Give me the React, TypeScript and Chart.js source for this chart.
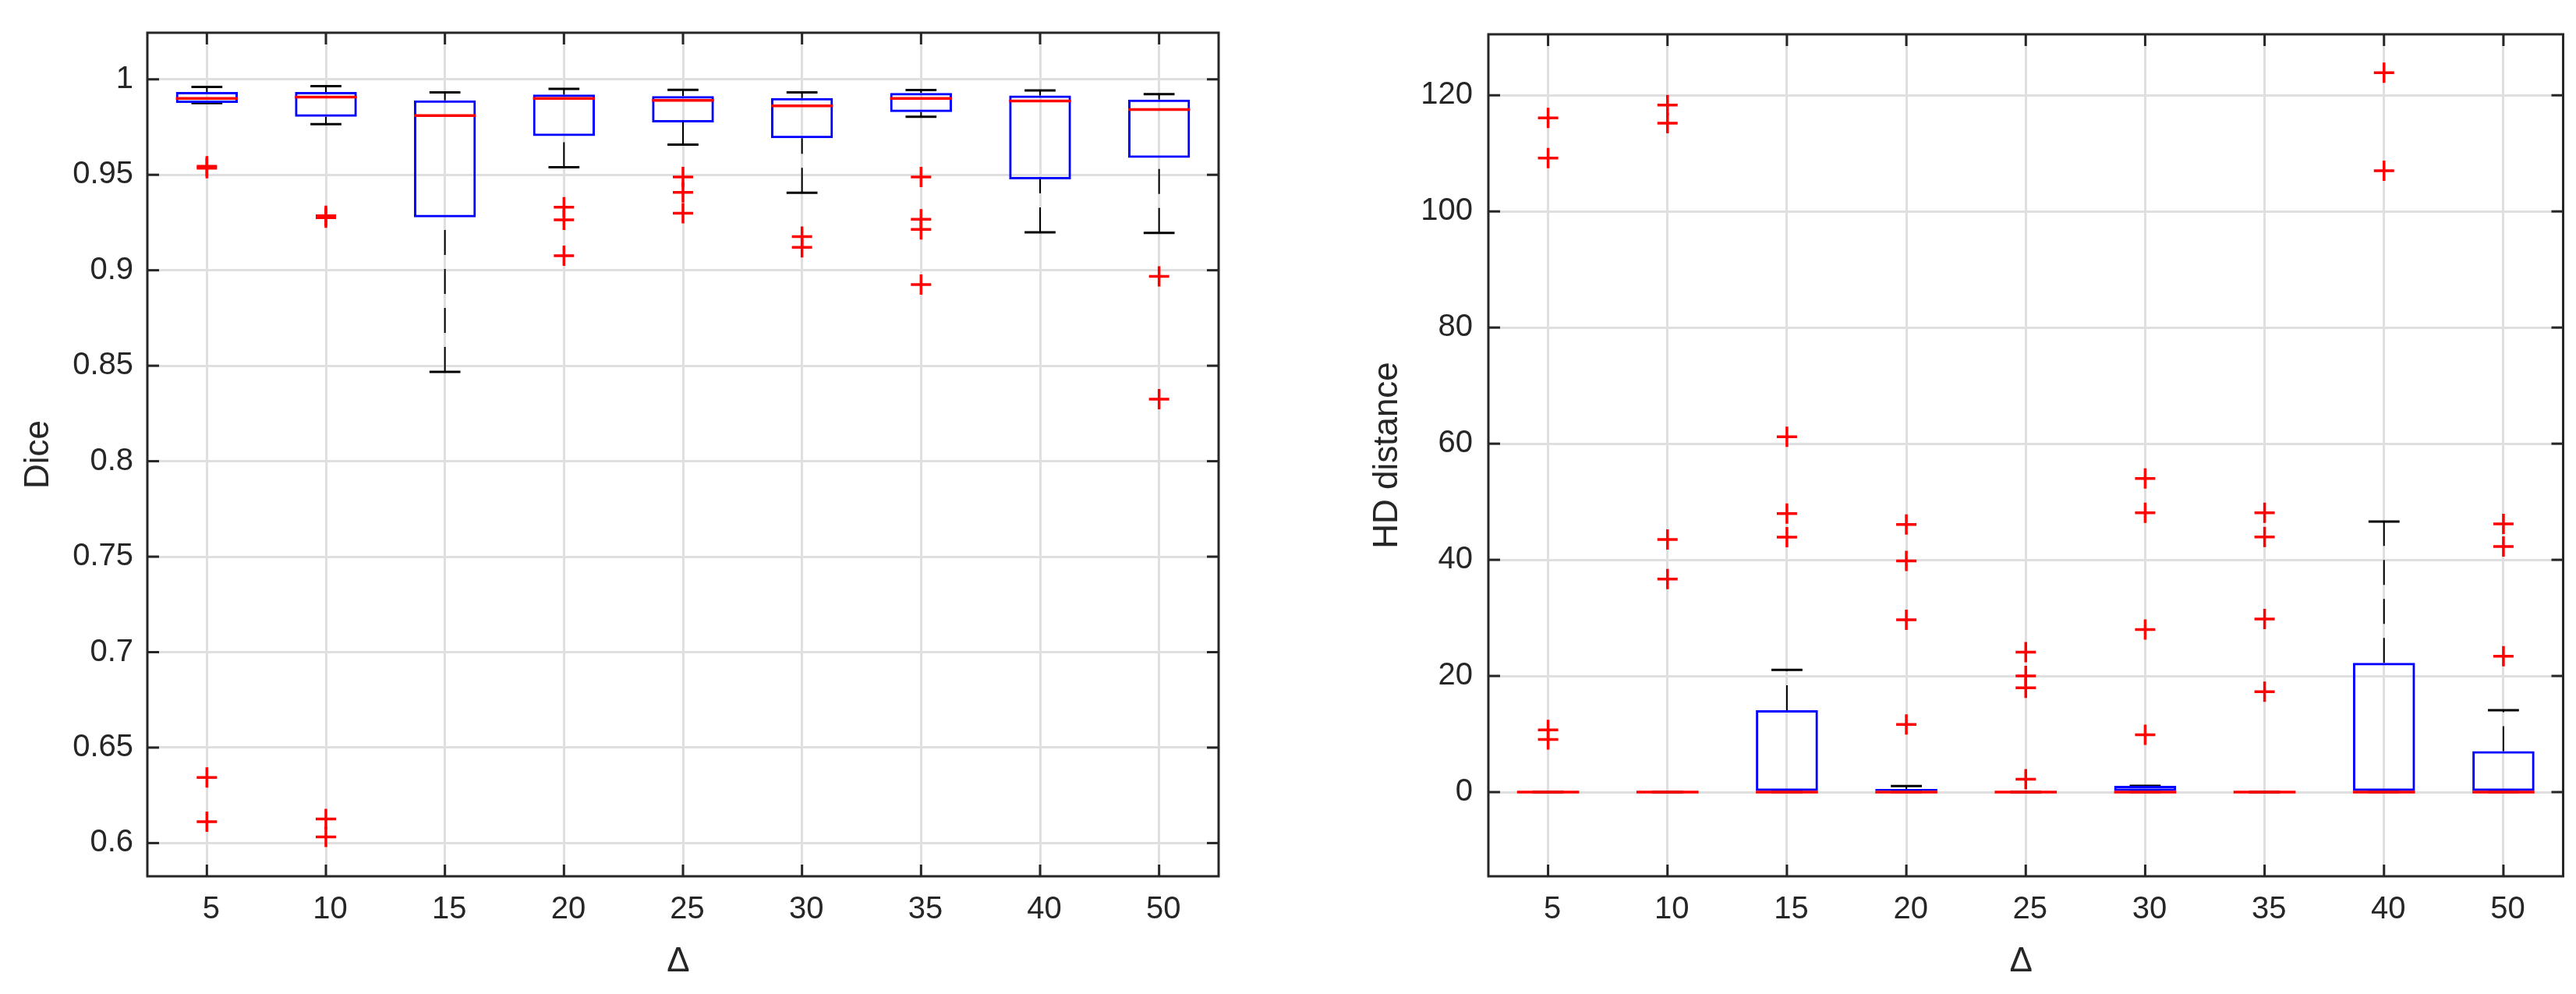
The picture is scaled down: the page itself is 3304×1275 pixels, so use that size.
import React, { useEffect, useRef } from 'react';
import { Chart, registerables } from 'chart.js';

Chart.register(...registerables);

const categories = ['5', '10', '15', '20', '25', '30', '35', '40', '50'];

// ---- Dice ----
const diceLowerWhisker = [0.9876, 0.9765, 0.8468, 0.954, 0.9658, 0.9406, 0.9804, 0.9199, 0.9196];
const diceQ1 = [0.9877, 0.9804, 0.9277, 0.9703, 0.9774, 0.9692, 0.9829, 0.9476, 0.9589];
const diceMedian = [0.99, 0.9907, 0.981, 0.99, 0.989, 0.9861, 0.99, 0.9887, 0.9842];
const diceQ3 = [0.9934, 0.9934, 0.989, 0.992, 0.9912, 0.9902, 0.9929, 0.9915, 0.9894];
const diceUpperWhisker = [0.996, 0.9964, 0.9932, 0.995, 0.9945, 0.9932, 0.9944, 0.9942, 0.9922];
const diceOutliers = [
  [0.9545, 0.9535, 0.6344, 0.6112],
  [0.9285, 0.9275, 0.6126, 0.6032],
  [],
  [0.933, 0.9264, 0.9076],
  [0.9489, 0.9408, 0.9299],
  [0.9176, 0.912],
  [0.9489, 0.9267, 0.9214, 0.8925],
  [],
  [0.8968, 0.8325],
];
const diceAxis = [0.5826, 1.0244, 0.05];

// ---- HD distance ----
const hdLowerWhisker = [0, 0, 0, 0, 0, 0, 0, 0, 0];
const hdQ1 = [0, 0, 0, 0, 0, 0, 0, 0, 0];
const hdMedian = [0, 0, 0, 0, 0, 0, 0, 0, 0];
const hdQ3 = [0, 0, 14.1, 0.55, 0, 1.07, 0, 22.26, 7.06];
const hdUpperWhisker = [0, 0, 21.06, 1.03, 0, 1.07, 0, 46.6, 14.1];
const hdOutliers = [
  [116.1, 109.2, 10.7, 9.07],
  [118.3, 115.2, 43.5, 36.7],
  [61.2, 47.96, 43.9],
  [46.07, 39.8, 29.66, 11.65],
  [24.1, 20.0, 17.96, 2.2],
  [54.0, 48.1, 28.0, 9.87],
  [48.1, 43.95, 29.8, 17.27],
  [123.9, 107.0],
  [46.2, 42.3, 23.4],
];
const hdAxis = [-14.5, 130.5, 20];

const FONT = '"Liberation Sans", Arial, Helvetica, sans-serif';
const TEXT = '#262626';
const GRID = '#dfdfdf';

type Stats = {
  lw: number[];
  q1: number[];
  med: number[];
  q3: number[];
  uw: number[];
  out: number[][];
};

function makeBoxPlugin(s: Stats) {
  const line = (ctx: CanvasRenderingContext2D, x1: number, y1: number, x2: number, y2: number) => {
    ctx.beginPath();
    ctx.moveTo(x1, y1);
    ctx.lineTo(x2, y2);
    ctx.stroke();
  };
  return {
    id: 'boxWhiskers',
    beforeDatasetsDraw(chart: any) {
      const { ctx } = chart;
      const x = chart.scales.x;
      const y = chart.scales.y;
      const meta = chart.getDatasetMeta(0);
      ctx.save();
      ctx.strokeStyle = '#000000';
      categories.forEach((_, i) => {
        const cx = x.getPixelForValue(i);
        const half = meta.data[i].width / 2;
        ctx.lineWidth = 2;
        ctx.setLineDash([32, 18]);
        // drawn from lower value upward
        line(ctx, cx, y.getPixelForValue(s.lw[i]), cx, y.getPixelForValue(s.q1[i]));
        line(ctx, cx, y.getPixelForValue(s.q3[i]), cx, y.getPixelForValue(s.uw[i]));
        ctx.setLineDash([]);
        ctx.lineWidth = 3;
        const yl = y.getPixelForValue(s.lw[i]);
        const yu = y.getPixelForValue(s.uw[i]);
        line(ctx, cx - half / 2, yl, cx + half / 2, yl);
        line(ctx, cx - half / 2, yu, cx + half / 2, yu);
      });
      ctx.restore();
    },
    afterDatasetsDraw(chart: any) {
      const { ctx } = chart;
      const x = chart.scales.x;
      const y = chart.scales.y;
      const meta = chart.getDatasetMeta(0);
      ctx.save();
      ctx.strokeStyle = '#ff0000';
      ctx.lineWidth = 3.5;
      categories.forEach((_, i) => {
        const cx = x.getPixelForValue(i);
        const half = meta.data[i].width / 2;
        const ym = y.getPixelForValue(s.med[i]);
        line(ctx, cx - half, ym, cx + half, ym);
      });
      ctx.restore();
    },
    afterDraw(chart: any) {
      const { ctx, chartArea } = chart;
      const { left, right, top, bottom } = chartArea;
      const x = chart.scales.x;
      const y = chart.scales.y;
      const TL = 15;
      ctx.save();
      ctx.strokeStyle = TEXT;
      ctx.lineWidth = 3;
      ctx.strokeRect(left, top, right - left, bottom - top);
      y.ticks.forEach((t: any) => {
        const py = y.getPixelForValue(t.value);
        line(ctx, left, py, left + TL, py);
        line(ctx, right, py, right - TL, py);
      });
      categories.forEach((_, i) => {
        const px = x.getPixelForValue(i);
        line(ctx, px, bottom, px, bottom - TL);
        line(ctx, px, top, px, top + TL);
      });
      ctx.restore();
    },
  };
}

type Props = {
  left: number;
  width: number;
  stats: Stats;
  axis: number[];
  yTitle: string;
  yAxisWidth: number;
  rightPad: number;
  yTitlePad: number;
  yTickPad: number;
};

function BoxChart(p: Props) {
  const ref = useRef<HTMLCanvasElement | null>(null);
  useEffect(() => {
    if (!ref.current) return;
    const s = p.stats;
    const boxes = categories.map((_, i) => [s.q1[i], s.q3[i]]);
    const outliers = categories.flatMap((c, i) => s.out[i].map((v) => ({ x: c, y: v })));
    const chart = new Chart(ref.current, {
      type: 'bar',
      data: {
        labels: categories,
        datasets: [
          {
            type: 'bar',
            data: boxes as any,
            borderColor: '#0000ff',
            backgroundColor: 'rgba(0,0,0,0)',
            borderWidth: 3,
            borderSkipped: false,
            barPercentage: 0.52,
            categoryPercentage: 1,
            order: 2,
          } as any,
          {
            type: 'scatter',
            data: outliers as any,
            pointStyle: 'cross',
            pointRadius: 13,
            pointHoverRadius: 13,
            pointBorderWidth: 3.5,
            borderColor: '#ff0000',
            backgroundColor: '#ff0000',
            order: 1,
          } as any,
        ],
      },
      options: {
        responsive: false,
        maintainAspectRatio: false,
        animation: false,
        devicePixelRatio: 1,
        events: [],
        layout: { padding: { top: 34, right: p.rightPad, bottom: 0, left: 0 } },
        plugins: { legend: { display: false }, tooltip: { enabled: false } },
        scales: {
          x: {
            type: 'category',
            offset: true,
            grid: { color: GRID, lineWidth: 3, drawTicks: false, offset: false },
            border: { display: false },
            ticks: {
              color: TEXT,
              font: { family: FONT, size: 40 },
              padding: 19,
              maxRotation: 0,
              autoSkip: false,
              callback: (_v: any, i: number) => ' ' + categories[i],
            },
            title: {
              display: true,
              text: 'Δ ',
              color: TEXT,
              font: { family: FONT, size: 44 },
              padding: { top: 0, bottom: 14.6 },
            },
            afterFit: (sc: any) => {
              sc.height = 151;
            },
          },
          y: {
            type: 'linear',
            min: p.axis[0],
            max: p.axis[1],
            grid: { color: GRID, lineWidth: 3, drawTicks: false },
            border: { display: false },
            ticks: {
              stepSize: p.axis[2],
              includeBounds: false,
              color: TEXT,
              font: { family: FONT, size: 40 },
              padding: p.yTickPad,
              callback: (v: any) => String(Number(Number(v).toFixed(4))),
            },
            title: {
              display: true,
              text: p.yTitle,
              color: TEXT,
              font: { family: FONT, size: 44 },
              padding: { top: p.yTitlePad, bottom: 0 },
            },
            afterFit: (sc: any) => {
              sc.width = p.yAxisWidth;
            },
          },
        },
      } as any,
      plugins: [makeBoxPlugin(s) as any],
    });
    return () => chart.destroy();
  }, []);
  return (
    <canvas
      ref={ref}
      width={p.width}
      height={1275}
      style={{ position: 'absolute', left: p.left, top: 0, width: p.width, height: 1275 }}
    />
  );
}

export default function App() {
  const dice: Stats = {
    lw: diceLowerWhisker,
    q1: diceQ1,
    med: diceMedian,
    q3: diceQ3,
    uw: diceUpperWhisker,
    out: diceOutliers,
  };
  const hd: Stats = {
    lw: hdLowerWhisker,
    q1: hdQ1,
    med: hdMedian,
    q3: hdQ3,
    uw: hdUpperWhisker,
    out: hdOutliers,
  };
  return (
    <div style={{ position: 'fixed', left: 0, top: 0, width: 3304, height: 1275, background: '#ffffff' }}>
      <BoxChart left={0} width={1650} stats={dice} axis={diceAxis} yTitle="Dice" yAxisWidth={189} rightPad={87} yTitlePad={23.6} yTickPad={18} />
      <BoxChart left={1650} width={1654} stats={hd} axis={hdAxis} yTitle="HD distance" yAxisWidth={259} rightPad={16} yTitlePad={103.6} yTickPad={20} />
    </div>
  );
}
